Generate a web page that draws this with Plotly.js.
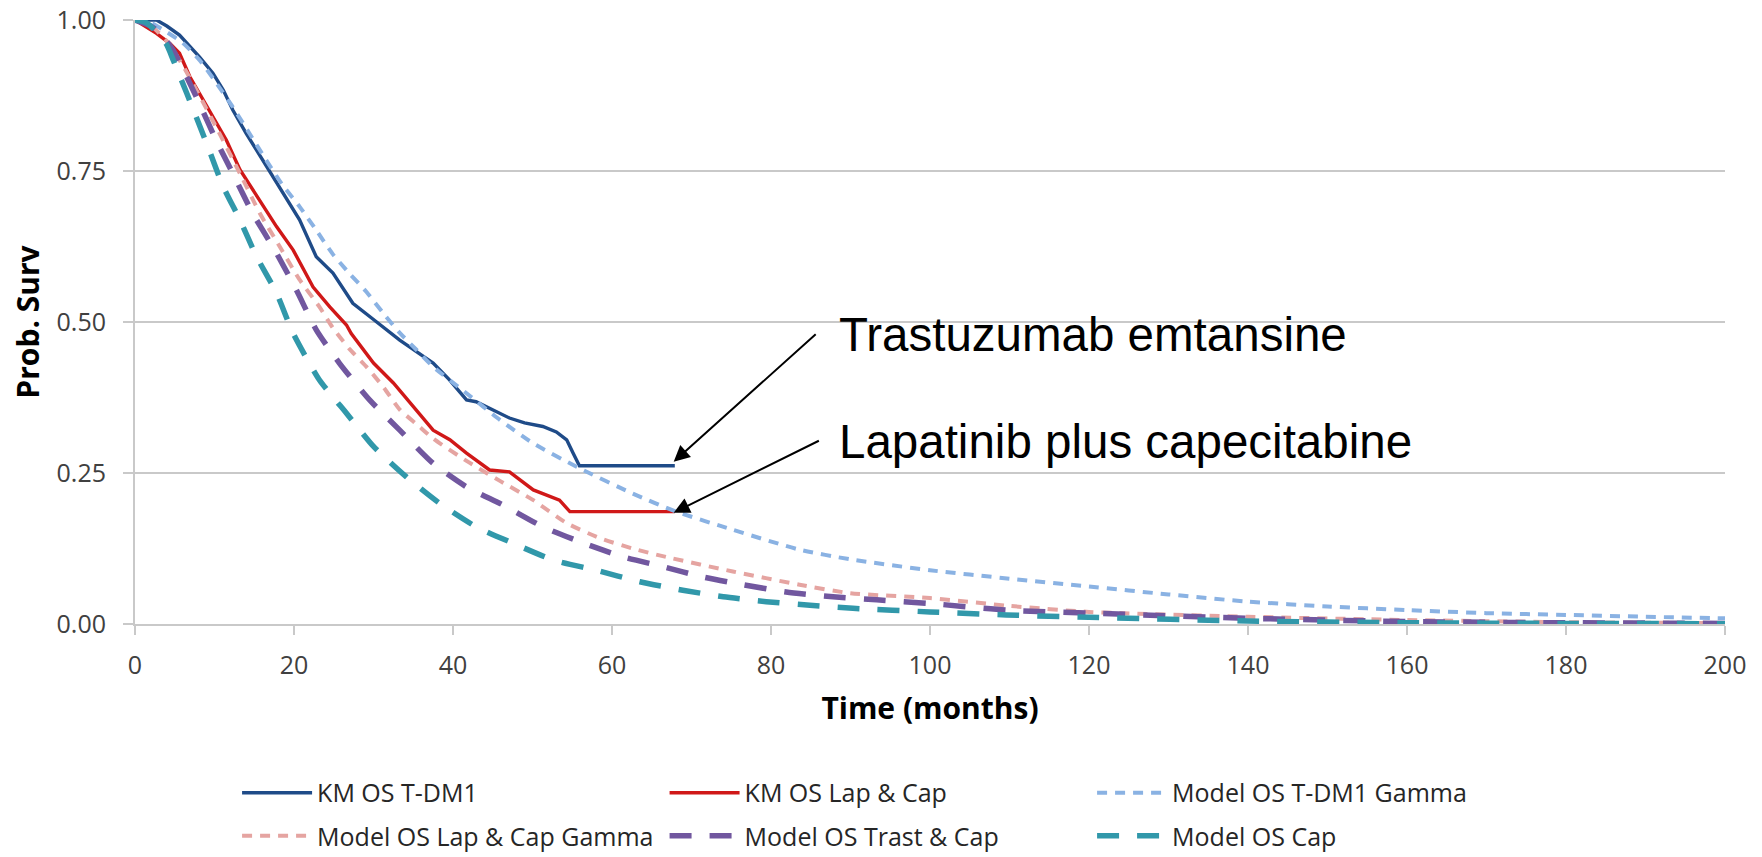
<!DOCTYPE html>
<html>
<head>
<meta charset="utf-8">
<script src="https://cdn.plot.ly/plotly-3.0.1.min.js"></script>
<style>html,body{margin:0;padding:0;background:#fff;}#chart{width:1762px;height:857px;}</style>
</head>
<body>
<div id="chart"></div>
<script>
// ---- Data ----
var seriesNames = ["KM OS T-DM1", "KM OS Lap & Cap", "Model OS T-DM1 Gamma",
                   "Model OS Lap & Cap Gamma", "Model OS Trast & Cap", "Model OS Cap"];

var kmTdm1Time = [0, 2.7, 4.0, 5.6, 8.1, 9.8, 11.1, 12.3, 14.0, 16.1, 18.6, 20.7, 22.8, 24.9, 27.4, 29.1, 30.4, 33.3, 35.5, 37.5, 39.5, 41.7, 42.9, 45.0, 47.1, 49.0, 51.3, 53.0, 54.3, 55.1, 55.9, 67.9];
var kmTdm1Surv = [1.0, 1.0, 0.99, 0.975, 0.939, 0.912, 0.884, 0.851, 0.812, 0.768, 0.713, 0.669, 0.608, 0.581, 0.531, 0.514, 0.50, 0.47, 0.45, 0.432, 0.405, 0.371, 0.368, 0.355, 0.341, 0.333, 0.327, 0.318, 0.305, 0.283, 0.262, 0.262];

var kmLapTime = [0, 0.6, 2.7, 4.4, 5.6, 6.9, 8.1, 9.8, 11.5, 13.2, 15.7, 17.8, 19.9, 22.4, 24.5, 26.6, 27.2, 30.0, 32.5, 35.0, 37.5, 39.6, 41.7, 44.6, 47.1, 50.1, 53.4, 54.7, 67.9];
var kmLapSurv = [1.0, 0.995, 0.978, 0.961, 0.945, 0.906, 0.879, 0.840, 0.801, 0.752, 0.702, 0.658, 0.619, 0.558, 0.525, 0.495, 0.481, 0.432, 0.399, 0.360, 0.321, 0.305, 0.283, 0.255, 0.252, 0.222, 0.205, 0.186, 0.186];

var modTdm1Time = [0, 2, 4, 6, 8.1, 10, 12.3, 14.5, 16.5, 18.5, 20.7, 22.8, 24.9, 27, 29.1, 31.2, 33.3, 35.4, 37.5, 41.7, 45.9, 50.1, 55.9, 62.6, 68.1, 75.2, 83.6, 90, 100, 110, 120, 130, 140, 150, 160, 170, 180, 190, 200];
var modTdm1Surv = [1.0, 0.995, 0.98, 0.962, 0.934, 0.90, 0.856, 0.81, 0.768, 0.728, 0.691, 0.652, 0.612, 0.58, 0.55, 0.515, 0.482, 0.454, 0.426, 0.382, 0.338, 0.299, 0.258, 0.216, 0.186, 0.156, 0.123, 0.107, 0.089, 0.075, 0.062, 0.049, 0.037, 0.029, 0.023, 0.018, 0.015, 0.012, 0.0094];

var modLapTime = [0, 2, 4, 6, 8.1, 10.2, 13.2, 15.7, 18.2, 20.7, 23.2, 24.9, 27, 29.1, 31.2, 33.3, 35.5, 37.5, 41.7, 45.9, 50.1, 54.3, 58.5, 62.6, 66.8, 75.2, 83.6, 90, 100, 110, 120, 140, 160, 180, 200];
var modLapSurv = [1.0, 0.99, 0.965, 0.925, 0.875, 0.823, 0.746, 0.680, 0.625, 0.570, 0.525, 0.490, 0.455, 0.426, 0.393, 0.355, 0.33, 0.307, 0.27, 0.237, 0.205, 0.167, 0.142, 0.125, 0.111, 0.087, 0.065, 0.051, 0.043, 0.030, 0.020, 0.012, 0.0066, 0.003, 0.0015];

var modTrastTime = [0, 2, 3, 4.8, 7.7, 10.2, 12.3, 14.8, 17.8, 20.3, 22.8, 25.7, 29.5, 33.3, 37.5, 41.7, 46.3, 51.3, 56.4, 61.4, 66.4, 71.4, 76.5, 81.9, 87.8, 93.3, 100, 109.6, 120, 140, 160, 180, 200];
var modTrastSurv = [1.0, 0.99, 0.98, 0.950, 0.873, 0.801, 0.746, 0.680, 0.614, 0.553, 0.487, 0.432, 0.371, 0.321, 0.266, 0.227, 0.197, 0.161, 0.134, 0.111, 0.095, 0.078, 0.065, 0.053, 0.045, 0.040, 0.034, 0.023, 0.018, 0.0095, 0.004, 0.002, 0.001];

var modCapTime = [0, 1.5, 3.9, 4.8, 6.5, 9.0, 11.1, 13.2, 15.3, 17.8, 19.9, 23.2, 26.6, 30.0, 34.1, 38.3, 42.9, 47.5, 52.6, 58.0, 63.5, 68.9, 74.0, 79.4, 84.9, 90.3, 100, 109.6, 120, 140, 160, 180, 200];
var modCapSurv = [1.0, 0.995, 0.961, 0.934, 0.879, 0.796, 0.724, 0.669, 0.608, 0.548, 0.481, 0.404, 0.349, 0.294, 0.244, 0.200, 0.161, 0.134, 0.106, 0.089, 0.070, 0.056, 0.045, 0.037, 0.031, 0.026, 0.020, 0.015, 0.011, 0.005, 0.002, 0.001, 0.0005];

var xTickVals = [0, 20, 40, 60, 80, 100, 120, 140, 160, 180, 200];
var yTickVals = [0, 0.25, 0.5, 0.75, 1.0];

var labelTdm1 = "Trastuzumab emtansine";
var labelLap = "Lapatinib plus capecitabine";
// arrow tips / tails in data units
var arrowTip = [[67.76, 0.2687], [67.76, 0.1843]];
var arrowTail = [[85.81, 0.4818], [86.21, 0.3046]];
var labelPos = [[88.3, 0.479], [88.3, 0.302]];

// ---- Traces ----
var traces = [
  {x: kmTdm1Time, y: kmTdm1Surv, name: seriesNames[0], mode: "lines", legend: "legend",
   line: {color: "#1f4b88", width: 3.4}},
  {x: kmLapTime, y: kmLapSurv, name: seriesNames[1], mode: "lines", legend: "legend",
   line: {color: "#d01818", width: 3.4}},
  {x: modTdm1Time, y: modTdm1Surv, name: seriesNames[2], mode: "lines", legend: "legend",
   line: {color: "#8ab2e3", width: 4, dash: "10px,8px", shape: "spline", smoothing: 0.6}},
  {x: modLapTime, y: modLapSurv, name: seriesNames[3], mode: "lines", legend: "legend2",
   line: {color: "#e5a4a1", width: 4, dash: "10px,8px", shape: "spline", smoothing: 0.6}},
  {x: modTrastTime, y: modTrastSurv, name: seriesNames[4], mode: "lines", legend: "legend2",
   line: {color: "#71579f", width: 5.5, dash: "22px,18px", shape: "spline", smoothing: 0.6}},
  {x: modCapTime, y: modCapSurv, name: seriesNames[5], mode: "lines", legend: "legend2",
   line: {color: "#3198aa", width: 5.5, dash: "22px,18px", shape: "spline", smoothing: 0.6}}
];

var gridCol = "#c9c9c9";
var tickFont = {family: "Open Sans, sans-serif", size: 25, color: "#404040"};
var legendCommon = {
  orientation: "h", xref: "paper", yref: "paper", xanchor: "left", yanchor: "middle",
  x: 0.0642, entrywidth: 342.5, entrywidthmode: "pixels", itemwidth: 70,
  bgcolor: "rgba(0,0,0,0)", borderwidth: 0,
  font: {family: "Open Sans, sans-serif", size: 25, color: "#262626"}
};

var annotations = [];
for (var i = 0; i < 2; i++) {
  annotations.push({
    x: arrowTip[i][0], y: arrowTip[i][1], xref: "x", yref: "y",
    ax: arrowTail[i][0], ay: arrowTail[i][1], axref: "x", ayref: "y",
    text: "", showarrow: true, arrowhead: 2, arrowsize: 1.6, arrowwidth: 2,
    arrowcolor: "#000000", standoff: 0
  });
}
annotations.push({x: labelPos[0][0], y: labelPos[0][1], xref: "x", yref: "y", text: labelTdm1,
  showarrow: false, xanchor: "left", yanchor: "middle",
  font: {family: "Liberation Sans, Arial, sans-serif", size: 47.5, color: "#000000"}});
annotations.push({x: labelPos[1][0], y: labelPos[1][1], xref: "x", yref: "y", text: labelLap,
  showarrow: false, xanchor: "left", yanchor: "middle",
  font: {family: "Liberation Sans, Arial, sans-serif", size: 47.5, color: "#000000"}});

var layout = {
  width: 1762, height: 857,
  margin: {l: 135, r: 37, t: 20, b: 233, autoexpand: false},
  paper_bgcolor: "#ffffff", plot_bgcolor: "#ffffff",
  font: {family: "Open Sans, sans-serif"},
  showlegend: true,
  xaxis: {
    range: [0, 200], tickvals: xTickVals, ticktext: xTickVals.map(String),
    showgrid: false, zeroline: false, showline: true, linecolor: gridCol, linewidth: 2,
    ticks: "outside", ticklen: 9, tickwidth: 2, tickcolor: gridCol,
    tickfont: tickFont, ticklabelstandoff: 9,
    title: {text: "Time (months)", font: {family: "Open Sans, sans-serif", size: 30, color: "#000000", weight: "bold"}, standoff: 18}
  },
  yaxis: {
    range: [0, 1], tickvals: yTickVals, tickformat: ".2f",
    showgrid: true, gridcolor: gridCol, gridwidth: 2, zeroline: false,
    showline: true, linecolor: gridCol, linewidth: 2,
    ticks: "outside", ticklen: 10, tickwidth: 2, tickcolor: gridCol,
    tickfont: tickFont, ticklabelstandoff: 12,
    title: {text: "Prob. Surv", font: {family: "Open Sans, sans-serif", size: 30, color: "#000000", weight: "bold"}, standoff: 8}
  },
  legend: Object.assign({}, legendCommon, {y: -0.2798}),
  legend2: Object.assign({}, legendCommon, {y: -0.351}),
  annotations: annotations
};

Plotly.newPlot("chart", traces, layout, {displayModeBar: false, staticPlot: true});
</script>
</body>
</html>
